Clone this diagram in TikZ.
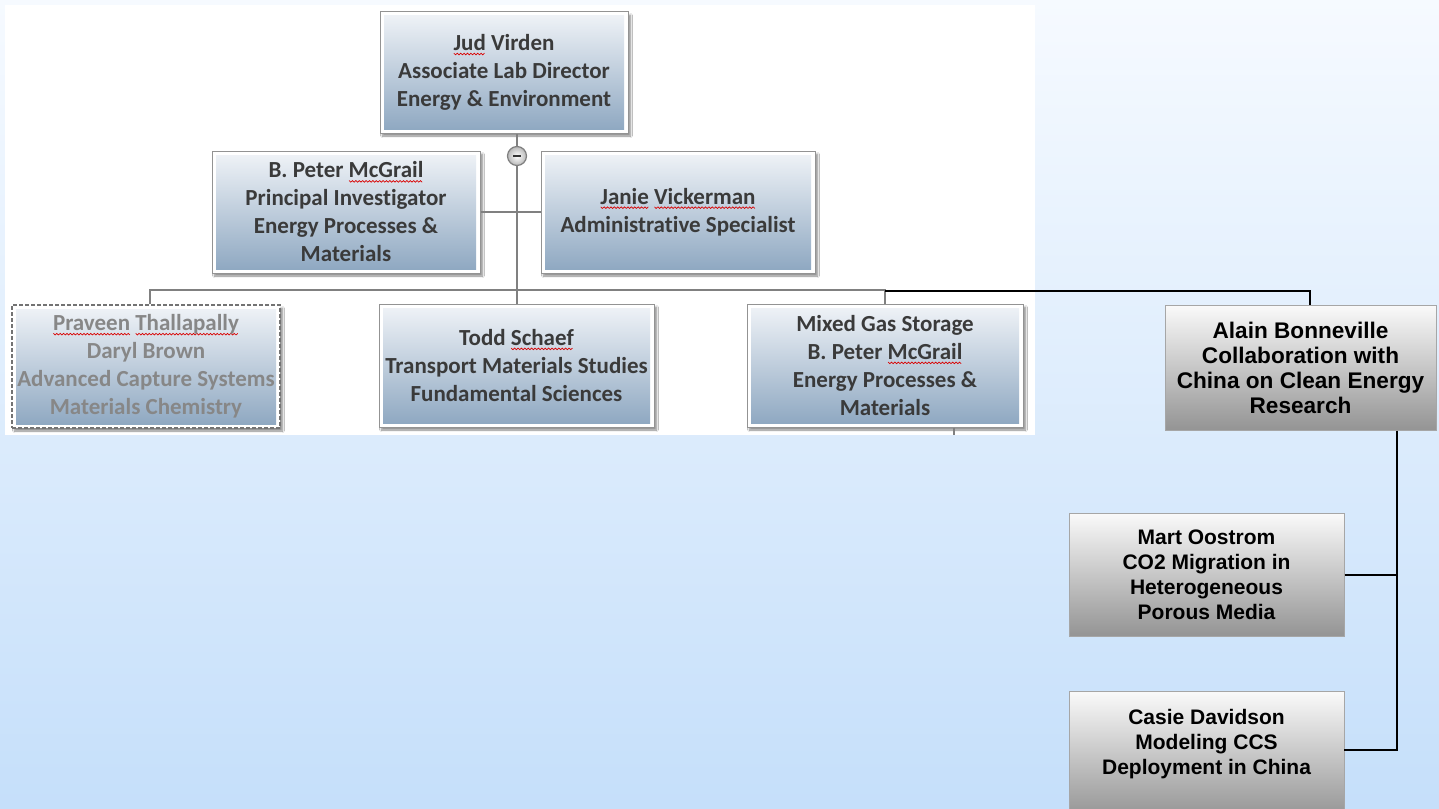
\documentclass[tikz,border=0pt]{standalone}
\usepackage{fontspec}
\setmainfont{Carlito}[Ligatures=NoCommon]
\newfontfamily\arialf{Liberation Sans}
\usetikzlibrary{shadows.blur}
\newsavebox\sqbox
\newcount\sqn
\newdimen\sqx
\newcommand\sq[1]{\sbox\sqbox{#1}\leavevmode\rlap{\begin{pgfpicture}\pgfsetbaseline{0pt}%
  \pgfsetcolor{red!85!black}\pgfsetlinewidth{0.7pt}%
  \pgfpathmoveto{\pgfpoint{0pt}{-2.6pt}}\sqx=0pt\sqn=0
  \loop\advance\sqx by 1.7pt\advance\sqn by 1
  \ifdim\sqx<\wd\sqbox
    \ifodd\sqn\pgfpathlineto{\pgfpoint{\sqx}{-4.2pt}}\else\pgfpathlineto{\pgfpoint{\sqx}{-2.6pt}}\fi
  \repeat\pgfusepath{stroke}\end{pgfpicture}}\usebox\sqbox}
\definecolor{bgtop}{RGB}{246,250,255}
\definecolor{bgbot}{RGB}{197,223,250}
\definecolor{linegray}{RGB}{128,128,128}
\definecolor{txt}{RGB}{58,58,58}
\definecolor{boxtop}{RGB}{241,244,248}
\definecolor{boxbot}{RGB}{140,166,192}
\tikzset{
  pnl/.style={shape=rectangle, draw=linegray!85, line width=1pt, fill=white,
    font=\bfseries\fontsize{23}{28}\selectfont, text=txt, align=center, inner sep=0pt,
    blur shadow={shadow xshift=2.5pt,shadow yshift=-3pt,shadow blur steps=5,shadow opacity=45},
    path picture={\shade[top color=boxtop,bottom color=boxbot]
      ([xshift=4pt,yshift=-4pt]path picture bounding box.north west) rectangle
      ([xshift=-4pt,yshift=4pt]path picture bounding box.south east);}},
  faded/.style={pnl, draw=black!55, line width=1.4pt, dash pattern=on 4pt off 2pt, text=black!47},
  abox/.style={shape=rectangle, draw=black!35, line width=1pt, top color=black!2, bottom color=black!42,
    font=\arialf\bfseries\fontsize{21}{25}\selectfont, text=black, align=center, inner sep=0pt},
  conn/.style={draw=linegray, line width=1.3pt},
  blk/.style={draw=black, line width=2pt}
}
\begin{document}
\begin{tikzpicture}[x=1pt,y=-1pt]
\useasboundingbox (0,0) rectangle (1439,808);
\clip (0,0) rectangle (1439,808);
\shade[top color=bgtop,bottom color=bgbot] (0,0) rectangle (1439,808);
\fill[white] (5,5) rectangle (1035,435);

% nodes
\node[pnl, minimum width=248, minimum height=121] (jud) at (504,72.5)
  {\sq{Jud} Virden\\Associate Lab Director\\Energy \& Environment};
\node[pnl, minimum width=268, minimum height=122] (mcg) at (346,212)
  {B. Peter \sq{McGrail}\\Principal Investigator\\Energy Processes \&\\Materials};
\node[pnl, minimum width=274, minimum height=122] (janie) at (678,212)
  {\sq{Janie} \sq{Vickerman}\\Administrative Specialist};
\node[faded, minimum width=268, minimum height=123] (prav) at (146,366.5)
  {\sq{Praveen} \sq{Thallapally}\\Daryl Brown\\Advanced Capture Systems\\Materials Chemistry};
\node[pnl, minimum width=275, minimum height=123] (todd) at (516.5,365.5)
  {Todd \sq{Schaef}\\Transport Materials Studies\\Fundamental Sciences};
\node[pnl, minimum width=276, minimum height=123] (mixed) at (885,365.5)
  {Mixed Gas Storage\\B. Peter \sq{McGrail}\\Energy Processes \&\\Materials};
\node[abox, font=\arialf\bfseries\fontsize{22.6}{25}\selectfont, minimum width=271, minimum height=125] (alain) at (1300.5,367.5)
  {Alain Bonneville\\Collaboration with\\China on Clean Energy\\Research};
\node[abox, minimum width=275, minimum height=123] (mart) at (1206.5,574.5)
  {Mart Oostrom\\CO2 Migration in\\Heterogeneous\\Porous Media};
\node[abox, minimum width=275, minimum height=126, anchor=north] (casie) at (1206.5,691)
  {Casie Davidson\\Modeling CCS\\Deployment in China\\\mbox{}};

% connectors (screenshot part)
\coordinate (trunk) at (517,290);
\coordinate (busL) at (150,290);
\coordinate (busR) at (885,290);
\coordinate (stub) at (954,435);
\draw[conn] (mcg.east) -- (janie.west);
\draw[conn] (jud.south -| trunk) -- (trunk);
\draw[conn] (prav.north -| busL) -- (busL) -- (busR) -- (mixed.north);
\draw[conn] (trunk) -- (todd.north -| trunk);
\draw[conn] (mixed.south -| stub) -- (stub);
\node[circle, minimum size=19, inner sep=0pt, draw=linegray, line width=1.2pt,
  inner color=white, outer color=black!28] (col) at (517,156) {};
\draw[line width=2.6pt, black!80] ([xshift=-4pt]col.center) -- ([xshift=4pt]col.center);

% connectors (black)
\coordinate (ak) at (1310,291);
\coordinate (spine) at (1397,0);
\coordinate (cj) at (1344,750);
\draw[blk] (busR |- ak) -- (ak) -- (alain.north -| ak);
\draw[blk] (alain.south -| spine) -- (spine |- cj) -- (cj);
\draw[blk] (mart.east) -- (mart.east -| spine);
\end{tikzpicture}
\end{document}
